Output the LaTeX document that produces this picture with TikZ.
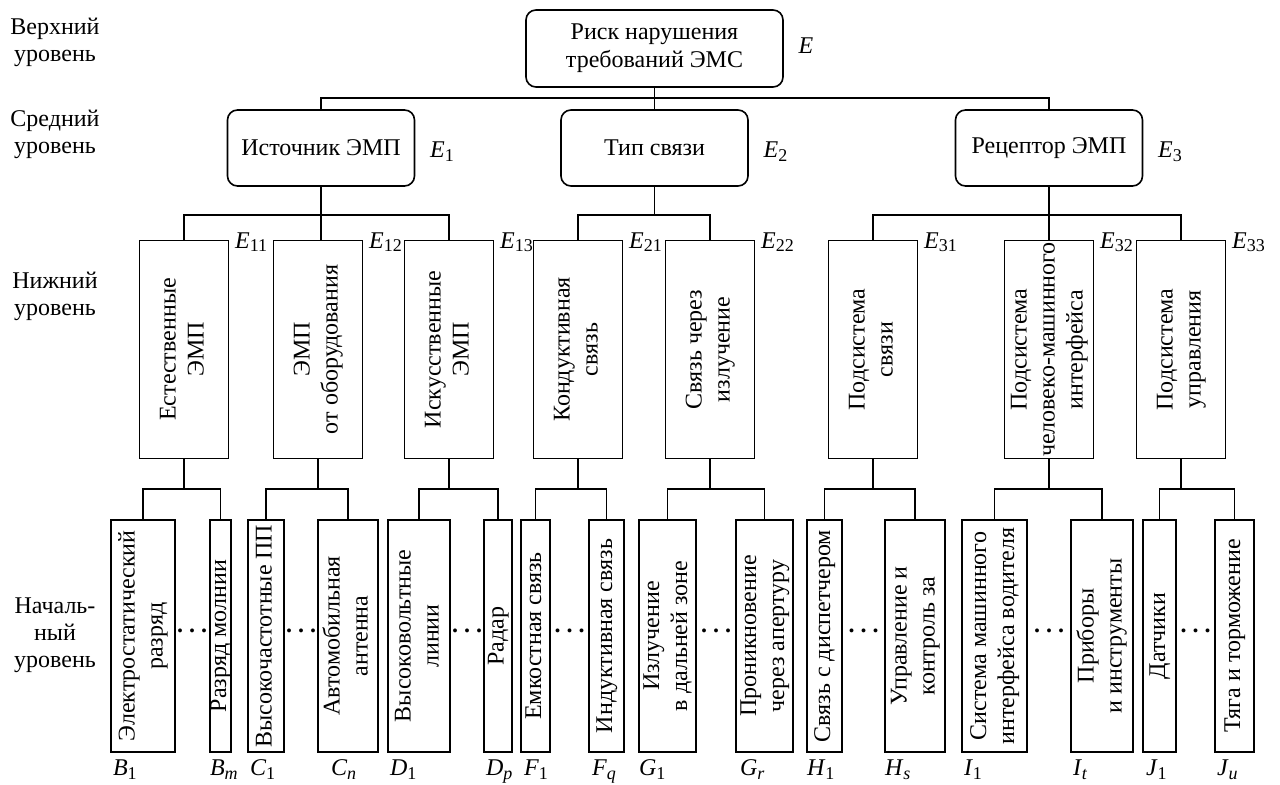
\documentclass[tikz,border=0pt]{standalone}
\usepackage{fontspec}
\setmainfont{Liberation Serif}

% повернутый текст в прямоугольнике
\newcommand{\rottext}[1]{\makebox[0pt]{\raisebox{-.5\height}[0pt][0pt]{\rotatebox{90}{\begin{tabular}{@{}c@{}}#1\end{tabular}}}}}
\newcommand{\lab}[2]{\textit{#1}\raisebox{-0.3ex}{\fontsize{9}{10}\selectfont #2}}
\newcommand{\dotsep}{{\bfseries .\hspace{3pt}.\hspace{3pt}.}}

\begin{document}
\begin{tikzpicture}[x=0.5pt, y=-0.5pt, line width=0.8pt,
    every node/.style={font=\fontsize{12}{14}\selectfont},
    rbox/.style={draw, rounded corners=5pt, align=center, inner sep=0pt},
    vbox/.style={draw, inner sep=0pt, minimum width=44.5pt, minimum height=109pt},
    leaf/.style={draw, inner sep=0pt, minimum height=116pt},
    elab/.style={inner sep=0pt},
    dotsnode/.style={inner sep=0pt, anchor=base},
    level/.style={align=center, font=\fontsize{12}{13.5}\selectfont}]
    \useasboundingbox (0,0) rectangle (1280,785);

    % Уровни
    \node[level] (lv1) at (55,42) {Верхний\\уровень};
    \node[level] (lv2) at (55,134) {Средний\\уровень};
    \node[level] (lv3) at (55,296) {Нижний\\уровень};
    \node[level] (lv4) at (55,635) {Началь-\\ный\\уровень};

    % Узлы
    \node[rbox, minimum width=128.5pt, minimum height=38.5pt] (E) at (654.5,48.5) {Риск нарушения\\требований ЭМС};
    \node[rbox, minimum width=93.5pt, minimum height=38pt] (E1) at (321,148) {Источник ЭМП};
    \node[rbox, minimum width=93.5pt, minimum height=38pt] (E2) at (654.5,148) {Тип связи};
    \node[rbox, minimum width=93.5pt, minimum height=38pt] (E3) at (1049,148) {Рецептор ЭМП};

    \node[vbox] (E11) at (184,349.5) {\rottext{Естественные\\ЭМП}};
    \node[vbox] (E12) at (318,349.5) {\rottext{ЭМП\\от оборудования}};
    \node[vbox] (E13) at (449,349.5) {\rottext{Искусственные\\ЭМП}};
    \node[vbox] (E21) at (578,349.5) {\rottext{Кондуктивная\\связь}};
    \node[vbox] (E22) at (710,349.5) {\rottext{Связь через\\излучение}};
    \node[vbox] (E31) at (873,349.5) {\rottext{Подсистема\\связи}};
    \node[vbox] (E32) at (1049,349.5) {\rottext{Подсистема\\человеко-машинного\\интерфейса}};
    \node[vbox] (E33) at (1181,349.5) {\rottext{Подсистема\\управления}};

    \node[leaf, minimum width=32pt] (B1) at (143,636) {\rottext{Электростатический\\разряд}};
    \node[leaf, minimum width=10.5pt] (Bm) at (220.5,636) {\rottext{Разряд молнии}};
    \node[leaf, minimum width=18pt] (C1) at (266,636) {\rottext{Высокочастотные ПП}};
    \node[leaf, minimum width=30pt] (Cn) at (348,636) {\rottext{Автомобильная\\антенна}};
    \node[leaf, minimum width=31pt] (D1) at (419,636) {\rottext{Высоковольтные\\линии}};
    \node[leaf, minimum width=14pt] (Dp) at (498,636) {\rottext{Радар}};
    \node[leaf, minimum width=14.5pt] (F1) at (535.5,636) {\rottext{Емкостная связь}};
    \node[leaf, minimum width=17.5pt] (Fq) at (606.5,636) {\rottext{Индуктивная связь}};
    \node[leaf, minimum width=28.5pt] (G1) at (667.5,636) {\rottext{Излучение\\в дальней зоне}};
    \node[leaf, minimum width=28.5pt] (Gr) at (764.5,636) {\rottext{Проникновение\\через апертуру}};
    \node[leaf, minimum width=17.5pt] (H1) at (824.5,636) {\rottext{Связь с диспетчером}};
    \node[leaf, minimum width=30pt] (Hs) at (915,636) {\rottext{Управление и\\контроль за}};
    \node[leaf, minimum width=32.5pt] (I1) at (994.5,636) {\rottext{Система машинного\\интерфейса водителя}};
    \node[leaf, minimum width=31pt] (It) at (1102,636) {\rottext{Приборы\\и инструменты}};
    \node[leaf, minimum width=16.5pt] (J1) at (1159.5,636) {\rottext{Датчики}};
    \node[leaf, minimum width=19.5pt] (Ju) at (1234.5,636) {\rottext{Тяга и торможение}};

    % Многоточия
    \node[dotsnode] (dB) at (192,633) {\dotsep};
    \node[dotsnode] (dC) at (301,633) {\dotsep};
    \node[dotsnode] (dD) at (467,633) {\dotsep};
    \node[dotsnode] (dF) at (569.5,633) {\dotsep};
    \node[dotsnode] (dG) at (716,633) {\dotsep};
    \node[dotsnode] (dH) at (863.5,633) {\dotsep};
    \node[dotsnode] (dI) at (1049,633) {\dotsep};
    \node[dotsnode] (dJ) at (1195.5,633) {\dotsep};

    % Обозначения
    \node[elab, anchor=base west] (lE) at ([xshift=7pt,yshift=-2.5pt]E.east) {\textit{E}};
    \node[elab, anchor=base west] (lE1) at ([xshift=7pt,yshift=-5pt]E1.east) {\lab{E}{1}};
    \node[elab, anchor=base west] (lE2) at ([xshift=7pt,yshift=-5pt]E2.east) {\lab{E}{2}};
    \node[elab, anchor=base west] (lE3) at ([xshift=7pt,yshift=-5pt]E3.east) {\lab{E}{3}};
    \node[elab, anchor=base west] (lE11) at ([xshift=2.5pt,yshift=-4.5pt]E11.north east) {\lab{E}{11}};
    \node[elab, anchor=base west] (lE12) at ([xshift=2.5pt,yshift=-4.5pt]E12.north east) {\lab{E}{12}};
    \node[elab, anchor=base west] (lE13) at ([xshift=2.5pt,yshift=-4.5pt]E13.north east) {\lab{E}{13}};
    \node[elab, anchor=base west] (lE21) at ([xshift=2.5pt,yshift=-4.5pt]E21.north east) {\lab{E}{21}};
    \node[elab, anchor=base west] (lE22) at ([xshift=2.5pt,yshift=-4.5pt]E22.north east) {\lab{E}{22}};
    \node[elab, anchor=base west] (lE31) at ([xshift=2.5pt,yshift=-4.5pt]E31.north east) {\lab{E}{31}};
    \node[elab, anchor=base west] (lE32) at ([xshift=2.5pt,yshift=-4.5pt]E32.north east) {\lab{E}{32}};
    \node[elab, anchor=base west] (lE33) at ([xshift=2.5pt,yshift=-4.5pt]E33.north east) {\lab{E}{33}};

    \node[elab, anchor=base west] (lB1) at ([xshift=1pt,yshift=-11.5pt]B1.south west) {\lab{B}{1}};
    \node[elab, anchor=base west] (lBm) at ([xshift=0pt,yshift=-11.5pt]Bm.south west) {\lab{B}{\textit{m}}};
    \node[elab, anchor=base west] (lC1) at ([xshift=1pt,yshift=-11.5pt]C1.south west) {\lab{C}{1}};
    \node[elab, anchor=base west] (lCn) at ([xshift=6.5pt,yshift=-11.5pt]Cn.south west) {\lab{C}{\textit{n}}};
    \node[elab, anchor=base west] (lD1) at ([xshift=1pt,yshift=-11.5pt]D1.south west) {\lab{D}{1}};
    \node[elab, anchor=base west] (lDp) at ([xshift=1pt,yshift=-11.5pt]Dp.south west) {\lab{D}{\textit{p}}};
    \node[elab, anchor=base west] (lF1) at ([xshift=1.5pt,yshift=-11.5pt]F1.south west) {\lab{F}{1}};
    \node[elab, anchor=base west] (lFq) at ([xshift=1.5pt,yshift=-11.5pt]Fq.south west) {\lab{F}{\textit{q}}};
    \node[elab, anchor=base west] (lG1) at ([xshift=0pt,yshift=-11.5pt]G1.south west) {\lab{G}{1}};
    \node[elab, anchor=base west] (lGr) at ([xshift=2pt,yshift=-11.5pt]Gr.south west) {\lab{G}{\textit{r}}};
    \node[elab, anchor=base west] (lH1) at ([xshift=0pt,yshift=-11.5pt]H1.south west) {\lab{H}{1}};
    \node[elab, anchor=base west] (lHs) at ([xshift=0pt,yshift=-11.5pt]Hs.south west) {\lab{H}{\textit{s}}};
    \node[elab, anchor=base west] (lI1) at ([xshift=1pt,yshift=-11.5pt]I1.south west) {\lab{I}{1}};
    \node[elab, anchor=base west] (lIt) at ([xshift=1pt,yshift=-11.5pt]It.south west) {\lab{I}{\textit{t}}};
    \node[elab, anchor=base west] (lJ1) at ([xshift=1.5pt,yshift=-11.5pt]J1.south west) {\lab{J}{1}};
    \node[elab, anchor=base west] (lJu) at ([xshift=1pt,yshift=-11.5pt]Ju.south west) {\lab{J}{\textit{u}}};

    % Связи
    \coordinate (b1) at (0,98);
    \coordinate (b2) at (0,215);
    \coordinate (b3) at (0,489);

    \draw (E.south) -- (E2.north);
    \draw (E1.north) -- (E1.north |- b1) -| (E3.north);

    \draw (E1.south) -- (E1.south |- E12.north);
    \draw (E11.north) -- (E11.north |- b2) -| (E13.north);
    \draw (E2.south) -- (E2.south |- b2);
    \draw (E21.north) -- (E21.north |- b2) -| (E22.north);
    \draw (E3.south) -- (E32.north);
    \draw (E31.north) -- (E31.north |- b2) -| (E33.north);

    \draw (E11.south) -- (E11.south |- b3);
    \draw (B1.north) -- (B1.north |- b3) -| (Bm.north);
    \draw (E12.south) -- (E12.south |- b3);
    \draw (C1.north) -- (C1.north |- b3) -| (Cn.north);
    \draw (E13.south) -- (E13.south |- b3);
    \draw (D1.north) -- (D1.north |- b3) -| (Dp.north);
    \draw (E21.south) -- (E21.south |- b3);
    \draw (F1.north) -- (F1.north |- b3) -| (Fq.north);
    \draw (E22.south) -- (E22.south |- b3);
    \draw (G1.north) -- (G1.north |- b3) -| (Gr.north);
    \draw (E31.south) -- (E31.south |- b3);
    \draw (H1.north) -- (H1.north |- b3) -| (Hs.north);
    \draw (E32.south) -- (E32.south |- b3);
    \draw (I1.north) -- (I1.north |- b3) -| (It.north);
    \draw (E33.south) -- (E33.south |- b3);
    \draw (J1.north) -- (J1.north |- b3) -| (Ju.north);
\end{tikzpicture}
\end{document}
